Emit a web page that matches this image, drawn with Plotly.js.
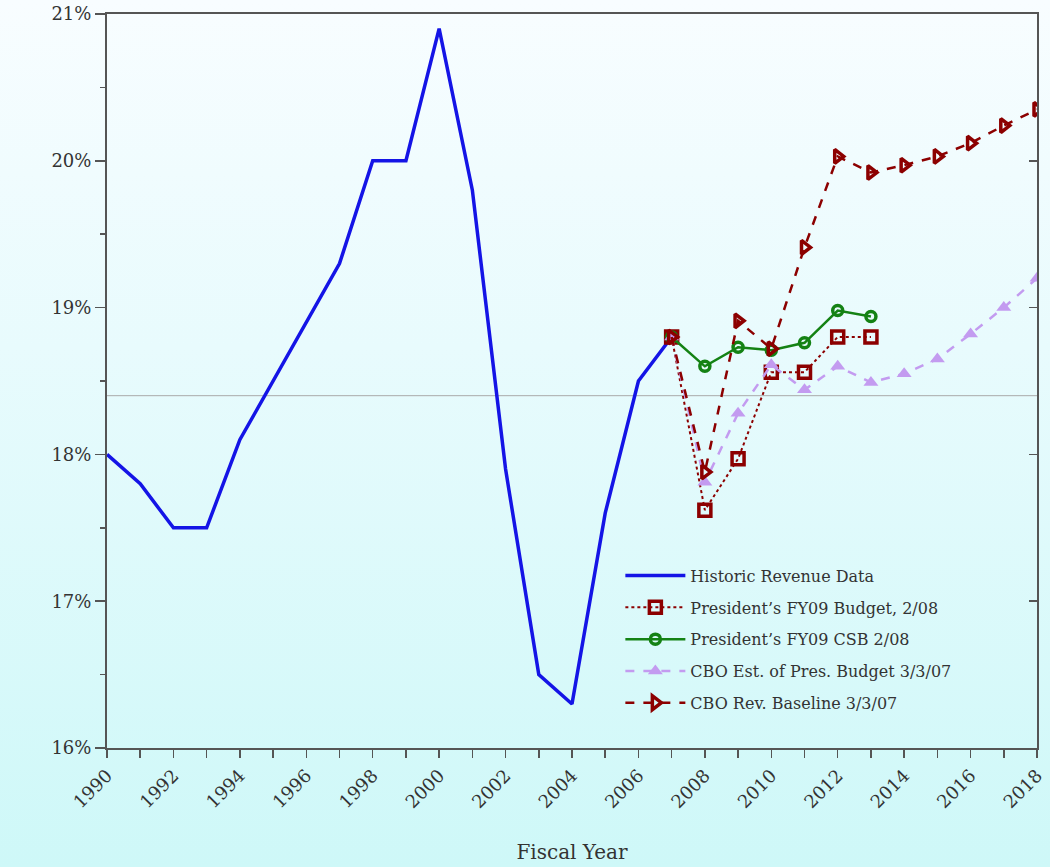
<!DOCTYPE html>
<html>
<head>
<meta charset="utf-8">
<script src="https://cdn.plot.ly/plotly-3.0.1.min.js"></script>
<style>
  html, body { margin: 0; padding: 0; }
  #chart { width: 1050px; height: 867px;
    background: linear-gradient(to bottom, #f8fdff 0%, #e8fbfd 40%, #cef8f8 100%); }
</style>
</head>
<body>
<div id="chart"></div>
<script>
// ---- data ----
const histYears = [1990,1991,1992,1993,1994,1995,1996,1997,1998,1999,2000,2001,2002,2003,2004,2005,2006,2007];
const histValues = [18.0,17.8,17.5,17.5,18.1,18.5,18.9,19.3,20.0,20.0,20.9,19.8,17.9,16.5,16.3,17.6,18.5,18.8];

const presYears = [2007,2008,2009,2010,2011,2012,2013];
const presBudget = [18.8,17.62,17.97,18.56,18.56,18.80,18.80];
const presCSB = [18.8,18.60,18.73,18.71,18.76,18.98,18.94];

const cboYears = [2007,2008,2009,2010,2011,2012,2013,2014,2015,2016,2017,2018];
const cboEst = [18.8,17.81,18.28,18.61,18.44,18.60,18.49,18.55,18.65,18.82,19.00,19.20];
const cboBaseline = [18.8,17.88,18.91,18.72,19.41,20.03,19.92,19.97,20.03,20.12,20.24,20.35];

const historicAverage = 18.4;

const seriesNames = [
  "Historic Revenue Data",
  "President\u2019s FY09 Budget, 2/08",
  "President\u2019s FY09 CSB 2/08",
  "CBO Est. of Pres. Budget 3/3/07",
  "CBO Rev. Baseline 3/3/07"
];

const xTickVals = [1990,1992,1994,1996,1998,2000,2002,2004,2006,2008,2010,2012,2014,2016,2018];
const yTickVals = [16,17,18,19,20,21];
const yTickText = ["16%","17%","18%","19%","20%","21%"];

// ---- traces ----
const darkRed = "rgb(140,0,0)";
const green = "rgb(20,130,20)";
const lavender = "rgb(195,155,240)";
const traces = [
  { x: histYears, y: histValues, name: seriesNames[0], mode: "lines", legendgroup: "a",
    line: { color: "rgb(20,20,230)", width: 3.5 } },
  { x: presYears, y: presBudget, name: seriesNames[1], mode: "lines+markers", legendgroup: "b",
    line: { color: darkRed, width: 2, dash: "dot" },
    marker: { symbol: "square-open", size: 12, color: darkRed, line: { width: 3.5, color: darkRed } } },
  { x: presYears, y: presCSB, name: seriesNames[2], mode: "lines+markers", legendgroup: "c",
    line: { color: green, width: 2.5 },
    marker: { symbol: "circle-open", size: 10, color: green, line: { width: 3.5, color: green } } },
  { x: cboYears, y: cboEst, name: seriesNames[3], mode: "lines+markers", legendgroup: "d",
    line: { color: lavender, width: 2.5, dash: "dash" },
    marker: { symbol: "triangle-up", size: 13, color: lavender } },
  { x: cboYears, y: cboBaseline, name: seriesNames[4], mode: "lines+markers", legendgroup: "e",
    line: { color: darkRed, width: 2.5, dash: "dash" },
    marker: { symbol: "triangle-right-open", size: 12, color: darkRed, line: { width: 3.5, color: darkRed } } },
  { x: [null], y: [null], yaxis: "y2", showlegend: false, hoverinfo: "skip", mode: "lines" }
];

const axisColor = "#555";
const serif = "DejaVu Serif, Liberation Serif, serif";
const tickFont = { family: serif, size: 18, color: "#333" };

const layout = {
  width: 1050, height: 867,
  paper_bgcolor: "rgba(0,0,0,0)",
  plot_bgcolor: "rgba(0,0,0,0)",
  margin: { l: 107, r: 13, t: 14, b: 119 },
  showlegend: true,
  legend: {
    x: 0.552, y: 0.258, xanchor: "left", yanchor: "top",
    bgcolor: "rgba(0,0,0,0)",
    font: { family: serif, size: 16, color: "#333" },
    tracegroupgap: 8, itemwidth: 60
  },
  xaxis: {
    range: [1990, 2018],
    tickmode: "array", tickvals: xTickVals,
    tickangle: -45,
    ticks: "outside", ticklen: 8, tickcolor: axisColor, tickwidth: 1.5,
    minor: { dtick: 1, tick0: 1990, ticks: "outside", ticklen: 8, tickcolor: axisColor, tickwidth: 1.5 },
    showline: true, linecolor: axisColor, linewidth: 2, mirror: true,
    showgrid: false, zeroline: false,
    tickfont: tickFont,
    title: { text: "Fiscal Year", font: { family: serif, size: 20, color: "#333" }, standoff: 34 }
  },
  yaxis: {
    range: [16, 21],
    tickmode: "array", tickvals: yTickVals, ticktext: yTickText,
    ticks: "outside", ticklen: 10, tickcolor: axisColor, tickwidth: 1.5,
    minor: { dtick: 0.5, tick0: 16, ticks: "outside", ticklen: 5, tickcolor: axisColor, tickwidth: 1.5 },
    showline: true, linecolor: axisColor, linewidth: 2,
    showgrid: false, zeroline: false,
    tickfont: tickFont
  },
  yaxis2: {
    overlaying: "y", side: "right", range: [16, 21],
    tickmode: "array", tickvals: yTickVals,
    ticks: "inside", ticklen: 8, tickcolor: axisColor, tickwidth: 1.5,
    showticklabels: false, showline: true, linecolor: axisColor, linewidth: 2,
    showgrid: false, zeroline: false
  },
  shapes: [
    { type: "line", xref: "paper", x0: 0, x1: 1, yref: "y", y0: historicAverage, y1: historicAverage,
      line: { color: "#aaaaaa", width: 1 }, layer: "below" }
  ]
};

Plotly.newPlot("chart", traces, layout, { displayModeBar: false, staticPlot: true });
</script>
</body>
</html>
